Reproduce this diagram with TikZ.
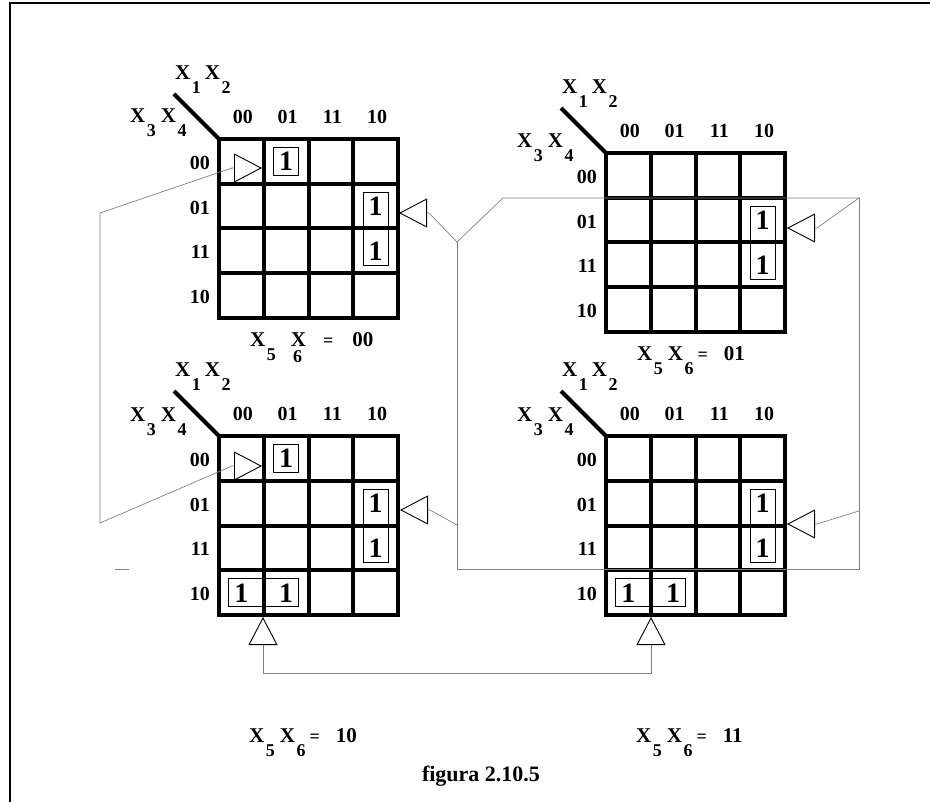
\documentclass[tikz,border=0pt]{standalone}
\usepackage{fontspec}
\setmainfont{Liberation Serif}
\usetikzlibrary{arrows.meta,calc,fit}
\newcommand{\cw}{44.75}
\newcommand{\subfont}{\fontsize{18}{18}\selectfont}
\newcommand{\Xs}[1]{X\kern1.5pt\raisebox{-14pt}{\subfont #1}}
\tikzset{
  gridline/.style={line width=4pt, draw=black},
  lbl/.style={font=\bfseries\fontsize{20}{20}\selectfont, inner sep=0pt},
  varlbl/.style={font=\bfseries\fontsize{21}{21}\selectfont, inner sep=0pt, anchor=base west},
  onecell/.style={font=\bfseries\fontsize{28}{28}\selectfont, inner sep=0pt,
    text height=19pt, text depth=0pt},
  grp/.style={draw, line width=0.8pt, inner xsep=5.5pt, inner ysep=4.5pt},
  link/.style={draw=black!50, line width=0.7pt},
  tri/.tip={Triangle[length=28pt, width=29pt, line width=0.9pt, color=black, fill=white]}
}
% one Karnaugh map: name, top left corner, offset of the x3x4 label
\newcommand{\kmap}[3]{%
  \coordinate (#1) at (#2);
  \foreach \i in {1,2,3} {
    \draw[gridline] ($(#1)+(\i*\cw,0)$) -- ($(#1)+(\i*\cw,4*\cw)$);
    \draw[gridline] ($(#1)+(0,\i*\cw)$) -- ($(#1)+(4*\cw,\i*\cw)$);
  }
  \draw[gridline] (#1) rectangle ($(#1)+(4*\cw,4*\cw)$);
  \draw[gridline] (#1) -- ++(-45,-45);
  \foreach \c/\t in {0/00,1/01,2/11,3/10} {
    \node[lbl, anchor=base] (#1-c\c) at ($(#1)+(\c*\cw+0.5*\cw+1.5,-15)$) {\t};
    \node[lbl, anchor=east] (#1-r\c) at ($(#1)+(-9,\c*\cw+0.5*\cw+1.5)$) {\t};
  }
  \node[varlbl] (#1-x12) at ($(#1)+(-44,-59)$) {\Xs{1}\kern4pt\Xs{2}};
  \node[varlbl] (#1-x34) at ($(#1)+(-89,#3)$) {\Xs{3}\kern5pt\Xs{4}};
}
% a 1 in column #3, row #4 of map #2
\newcommand{\kone}[4]{%
  \node[onecell] (#1) at ($(#2)+(#3*\cw+0.5*\cw,#4*\cw+0.5*\cw)$) {1};
}
% caption x5x6 = value
\newcommand{\vcap}[3]{%
  \node[varlbl] (#1) at (#2) {\Xs{5}\kern5pt\Xs{6}\kern4pt{\subfont =}\kern16pt #3};
}

\begin{document}
\begin{tikzpicture}[x=1pt,y=-1pt]
\useasboundingbox (0,0) rectangle (930,802);

% frame edges
\draw[line width=1.3pt] (10,802) -- (10,3) -- (930,3);

% the four maps
\kmap{tl}{219,139}{-16}
\kmap{tr}{606,153}{-5}
\kmap{bl}{219,436}{-14}
\kmap{br}{606,436}{-14}

% ones of x5x6=00
\kone{tl-a}{tl}{1}{0}
\kone{tl-b}{tl}{3}{1}
\kone{tl-c}{tl}{3}{2}
\node[grp, fit=(tl-a)] (tl-ga) {};
\node[grp, fit=(tl-b)(tl-c)] (tl-gb) {};

% ones of x5x6=01
\kone{tr-b}{tr}{3}{1}
\kone{tr-c}{tr}{3}{2}
\node[grp, fit=(tr-b)(tr-c)] (tr-gb) {};

% ones of x5x6=10
\kone{bl-a}{bl}{1}{0}
\kone{bl-b}{bl}{3}{1}
\kone{bl-c}{bl}{3}{2}
\kone{bl-d}{bl}{0}{3}
\kone{bl-e}{bl}{1}{3}
\node[grp, fit=(bl-a)] (bl-ga) {};
\node[grp, fit=(bl-b)(bl-c)] (bl-gb) {};
\node[grp, fit=(bl-d)(bl-e)] (bl-gc) {};

% ones of x5x6=11
\kone{br-b}{br}{3}{1}
\kone{br-c}{br}{3}{2}
\kone{br-d}{br}{0}{3}
\kone{br-e}{br}{1}{3}
\node[grp, fit=(br-b)(br-c)] (br-gb) {};
\node[grp, fit=(br-d)(br-e)] (br-gc) {};

% captions
\node[varlbl] (tl-cap) at (250,347)
  {\Xs{5}\kern15pt X\kern-13pt\raisebox{-16pt}{\subfont 6}\kern21pt{\subfont =}\kern19pt 00};
\vcap{tr-cap}{637,361}{01}
\vcap{bl-cap}{249,742}{10}
\vcap{br-cap}{636,742}{11}
\node[font=\bfseries\fontsize{22}{22}\selectfont, anchor=base] (fig) at (481,781) {figura 2.10.5};

% end points of the links
\coordinate (tl-in) at ($(tl)+(43,29)$);
\coordinate (bl-in) at ($(bl)+(43,30)$);
\coordinate (tl-out) at ($(tl)+(180,74)$);
\coordinate (tr-out) at ($(tr)+(181,75)$);
\coordinate (bl-out) at ($(bl)+(181,74)$);
\coordinate (br-out) at ($(br)+(181,88)$);
\coordinate (bl-dn) at ($(bl)+(44,181)$);
\coordinate (br-dn) at ($(br)+(45,181)$);
\coordinate (j1) at (457,242);
\coordinate (j2) at (503,198);
\coordinate (ne) at (859,198);
\coordinate (sw) at (457,569);
\coordinate (se) at (859,569);
\coordinate (bl-tap) at (457,525);
\coordinate (br-tap) at (859,511);
\coordinate (stub-a) at (115,569);
\coordinate (stub-b) at (129,569);

% left link
\draw[link, tri-tri] (tl-in) -- ++(-30,0) -- (100,213) -- (100,523)
  -- ($(bl-in)+(-30,0)$) -- (bl-in);

% middle links
\draw[link, tri-tri] (tl-out) -- ++(30,0) -- (j1) -- (j2) -- (ne)
  -- ($(tr-out)+(30,0)$) -- (tr-out);
\draw[link] (j1) -- (sw) -- (se) -- (ne);
\draw[link, tri-] (bl-out) -- ++(30,0) -- (bl-tap);
\draw[link, tri-] (br-out) -- ++(30,0) -- (br-tap);
\draw[link] (stub-a) -- (stub-b);

% bottom link
\draw[link, tri-tri] (bl-dn) -- ++(0,56) -- ($(br-dn)+(0,56)$) -- (br-dn);

\end{tikzpicture}
\end{document}
